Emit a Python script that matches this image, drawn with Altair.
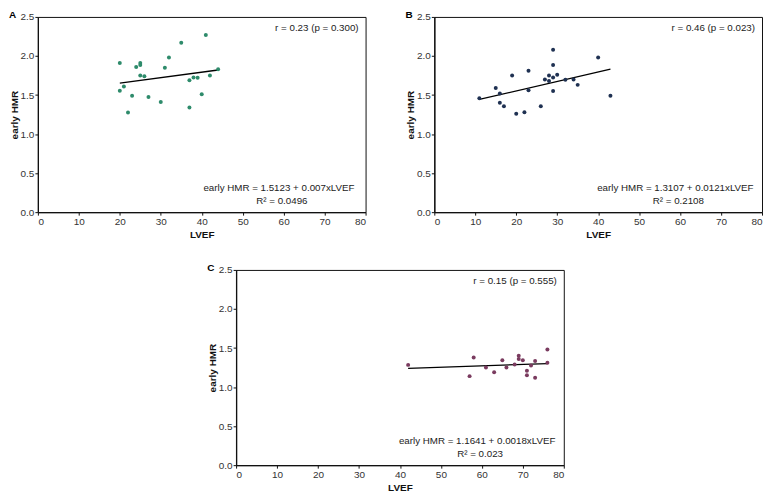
import altair as alt
import pandas as pd

# Panel A
a_lvef = [20, 21, 20, 22, 23, 24, 25, 25, 25, 26, 27, 30, 31, 32, 35, 37, 37, 38, 39, 40, 41, 42, 44]
a_hmr = [1.91, 1.61, 1.555, 1.275, 1.49, 1.86, 1.91, 1.885, 1.75, 1.74, 1.475, 1.41, 1.85, 1.98, 2.17, 1.69, 1.34, 1.725, 1.72, 1.51, 2.27, 1.75, 1.83]
# Panel B
b_lvef = [11, 15, 16, 16, 17, 19, 20, 22, 23, 23, 26, 27, 28, 28, 29, 29, 29, 29, 30, 32, 34, 35, 40, 43]
b_hmr = [1.458, 1.59, 1.52, 1.40, 1.356, 1.75, 1.26, 1.28, 1.81, 1.56, 1.356, 1.70, 1.75, 1.68, 2.08, 1.885, 1.725, 1.55, 1.76, 1.695, 1.70, 1.63, 1.98, 1.49]
# Panel C
c_lvef = [42, 57, 58, 61, 63, 65, 66, 68, 69, 69, 70, 71, 71, 72, 73, 73, 76, 76]
c_hmr = [1.284, 1.14, 1.38, 1.25, 1.19, 1.343, 1.25, 1.29, 1.40, 1.36, 1.343, 1.21, 1.15, 1.275, 1.335, 1.12, 1.48, 1.31]

labels = ["A", "B", "C"]
r_texts = ["r = 0.23 (p = 0.300)", "r = 0.46 (p = 0.023)", "r = 0.15 (p = 0.555)"]
eq_texts = ["early HMR = 1.5123 + 0.007xLVEF", "early HMR = 1.3107 + 0.0121xLVEF", "early HMR = 1.1641 + 0.0018xLVEF"]
r2_texts = ["R\u00b2 = 0.0496", "R\u00b2 = 0.2108", "R\u00b2 = 0.023"]
intercepts = [1.5123, 1.3107, 1.1641]
slopes = [0.007, 0.0121, 0.0018]
colors = ["#2e8b6b", "#1f3152", "#7a3b5f"]

x_ticks = [0, 10, 20, 30, 40, 50, 60, 70, 80]
y_ticks = [0.0, 0.5, 1.0, 1.5, 2.0, 2.5]

FONT = "Liberation Sans, Arial, sans-serif"
W, H = 329, 196
TXT = 9.8


def panel(i, lvef, hmr):
    df = pd.DataFrame({"LVEF": lvef, "HMR": hmr})
    xs = alt.Scale(domain=[0, 80], nice=False, zero=True)
    ys = alt.Scale(domain=[0, 2.5], nice=False)
    xenc = alt.X("LVEF:Q", scale=xs, axis=alt.Axis(values=x_ticks, title="LVEF", format="d"))
    yenc = alt.Y("HMR:Q", scale=ys, axis=alt.Axis(values=y_ticks, title="early HMR", format=".1f"))
    pts = alt.Chart(df).mark_circle(size=16, opacity=1, color=colors[i]).encode(x=xenc, y=yenc)
    ldf = pd.DataFrame({"LVEF": [min(lvef), max(lvef)]})
    line = (
        alt.Chart(ldf)
        .transform_calculate(HMR=f"{intercepts[i]} + {slopes[i]} * datum.LVEF")
        .mark_line(color="black", strokeWidth=1.3)
        .encode(x=xenc, y=yenc)
    )
    rt = alt.Chart(pd.DataFrame({"t": [r_texts[i]]})).mark_text(
        align="right", baseline="middle", fontSize=TXT, font=FONT, color="#222"
    ).encode(x=alt.value(W - 7), y=alt.value(11), text="t:N")
    eq = alt.Chart(pd.DataFrame({"t": [eq_texts[i]]})).mark_text(
        align="center", baseline="middle", fontSize=TXT, font=FONT, color="#222"
    ).encode(x=alt.value(W - 87), y=alt.value(H - 24), text="t:N")
    r2 = alt.Chart(pd.DataFrame({"t": [r2_texts[i]]})).mark_text(
        align="center", baseline="middle", fontSize=TXT, font=FONT, color="#222"
    ).encode(x=alt.value(W - 84), y=alt.value(H - 11), text="t:N")
    return alt.layer(line, pts, rt, eq, r2).properties(
        width=W,
        height=H,
        title=alt.TitleParams(labels[i], anchor="start", fontSize=10, fontWeight="bold", font=FONT, offset=-8),
    )


pa = panel(0, a_lvef, a_hmr)
pb = panel(1, b_lvef, b_hmr)
pc = panel(2, c_lvef, c_hmr)

chart = (
    alt.vconcat(alt.hconcat(pa, pb, spacing=38), pc, spacing=22, center=True)
    .properties(padding=0)
    .configure_view(stroke="#111", strokeWidth=1)
    .configure_axis(
        grid=False,
        domainColor="#111",
        domainWidth=1.3,
        tickColor="#111",
        tickSize=3,
        labelColor="#333",
        labelFont=FONT,
        labelFontSize=10,
        titleFont=FONT,
        titleFontSize=10,
        titleFontWeight="bold",
        titleColor="#111",
        labelPadding=1,
    )
    .configure_axisY(titlePadding=1)
    .configure_axisX(titlePadding=3)
)

chart.save("out.html", embed_options={"renderer": "svg", "actions": False})
